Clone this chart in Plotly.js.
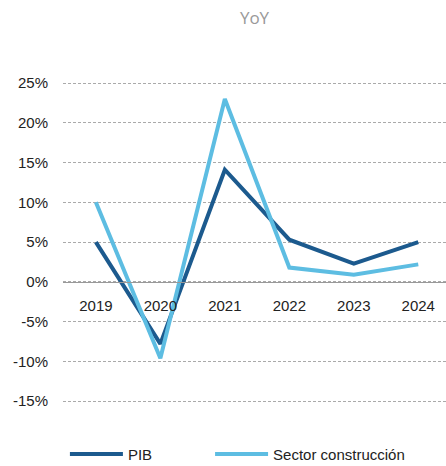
<!DOCTYPE html>
<html><head><meta charset="utf-8">
<script src="https://cdn.plot.ly/plotly-3.0.1.min.js"></script>
<style>html,body{margin:0;padding:0;background:#fff}#chart{width:446px;height:466px}</style>
</head><body><div id="chart"></div>
<script>
const years = ['2019','2020','2021','2022','2023','2024'];
const pib = [5.0, -7.8, 14.1, 5.3, 2.3, 5.0];
const construccion = [10.0, -9.6, 23.0, 1.8, 0.9, 2.2];
const yTicks = [-15,-10,-5,0,5,10,15,20,25];
const yTickText = yTicks.map(v => v + '%');

const yMin = -18, yMax = 27.9;
const traces = [
  {x: years, y: pib, name: 'PIB', type: 'scatter', mode: 'lines',
   line: {color: '#1c5a8e', width: 4}, legend: 'legend'},
  {x: years, y: construccion, name: 'Sector construcción', type: 'scatter', mode: 'lines',
   line: {color: '#5dbde2', width: 4}, legend: 'legend2'}
];
const legendBase = {orientation: 'h', xanchor: 'left', y: -0.08, yanchor: 'middle',
                    font: {size: 15, color: '#222'}, itemwidth: 53, bgcolor: 'rgba(0,0,0,0)'};
const layout = {
  width: 446, height: 466,
  margin: {l: 63, r: 0, t: 60, b: 41, autoexpand: false},
  paper_bgcolor: '#fff', plot_bgcolor: '#fff',
  font: {family: 'Liberation Sans, Arial, sans-serif', size: 15, color: '#222'},
  title: {text: 'YoY', x: 0.5, xref: 'paper', y: 0.962, yanchor: 'middle',
          font: {family: 'Open Sans, sans-serif', size: 17, color: '#999'}},
  xaxis: {type: 'category', range: [-0.51, 5.43], anchor: 'free',
          position: (0 - yMin) / (yMax - yMin),
          showline: true, linecolor: '#999', linewidth: 1,
          showgrid: false, ticks: '', ticklabelstandoff: 10,
          tickfont: {size: 15, color: '#222'}, fixedrange: true},
  yaxis: {range: [yMin, yMax], tickvals: yTicks, ticktext: yTickText,
          showgrid: true, gridcolor: '#aaa', griddash: '3px,2px', gridwidth: 1,
          zeroline: false, showline: false, ticks: '', ticklabelstandoff: 14,
          tickfont: {size: 15, color: '#222'}},
  showlegend: true,
  legend: Object.assign({}, legendBase, {x: 0.005}),
  legend2: Object.assign({}, legendBase, {x: 0.384}),
};
Plotly.newPlot('chart', traces, layout, {displayModeBar: false, staticPlot: true});
</script></body></html>
